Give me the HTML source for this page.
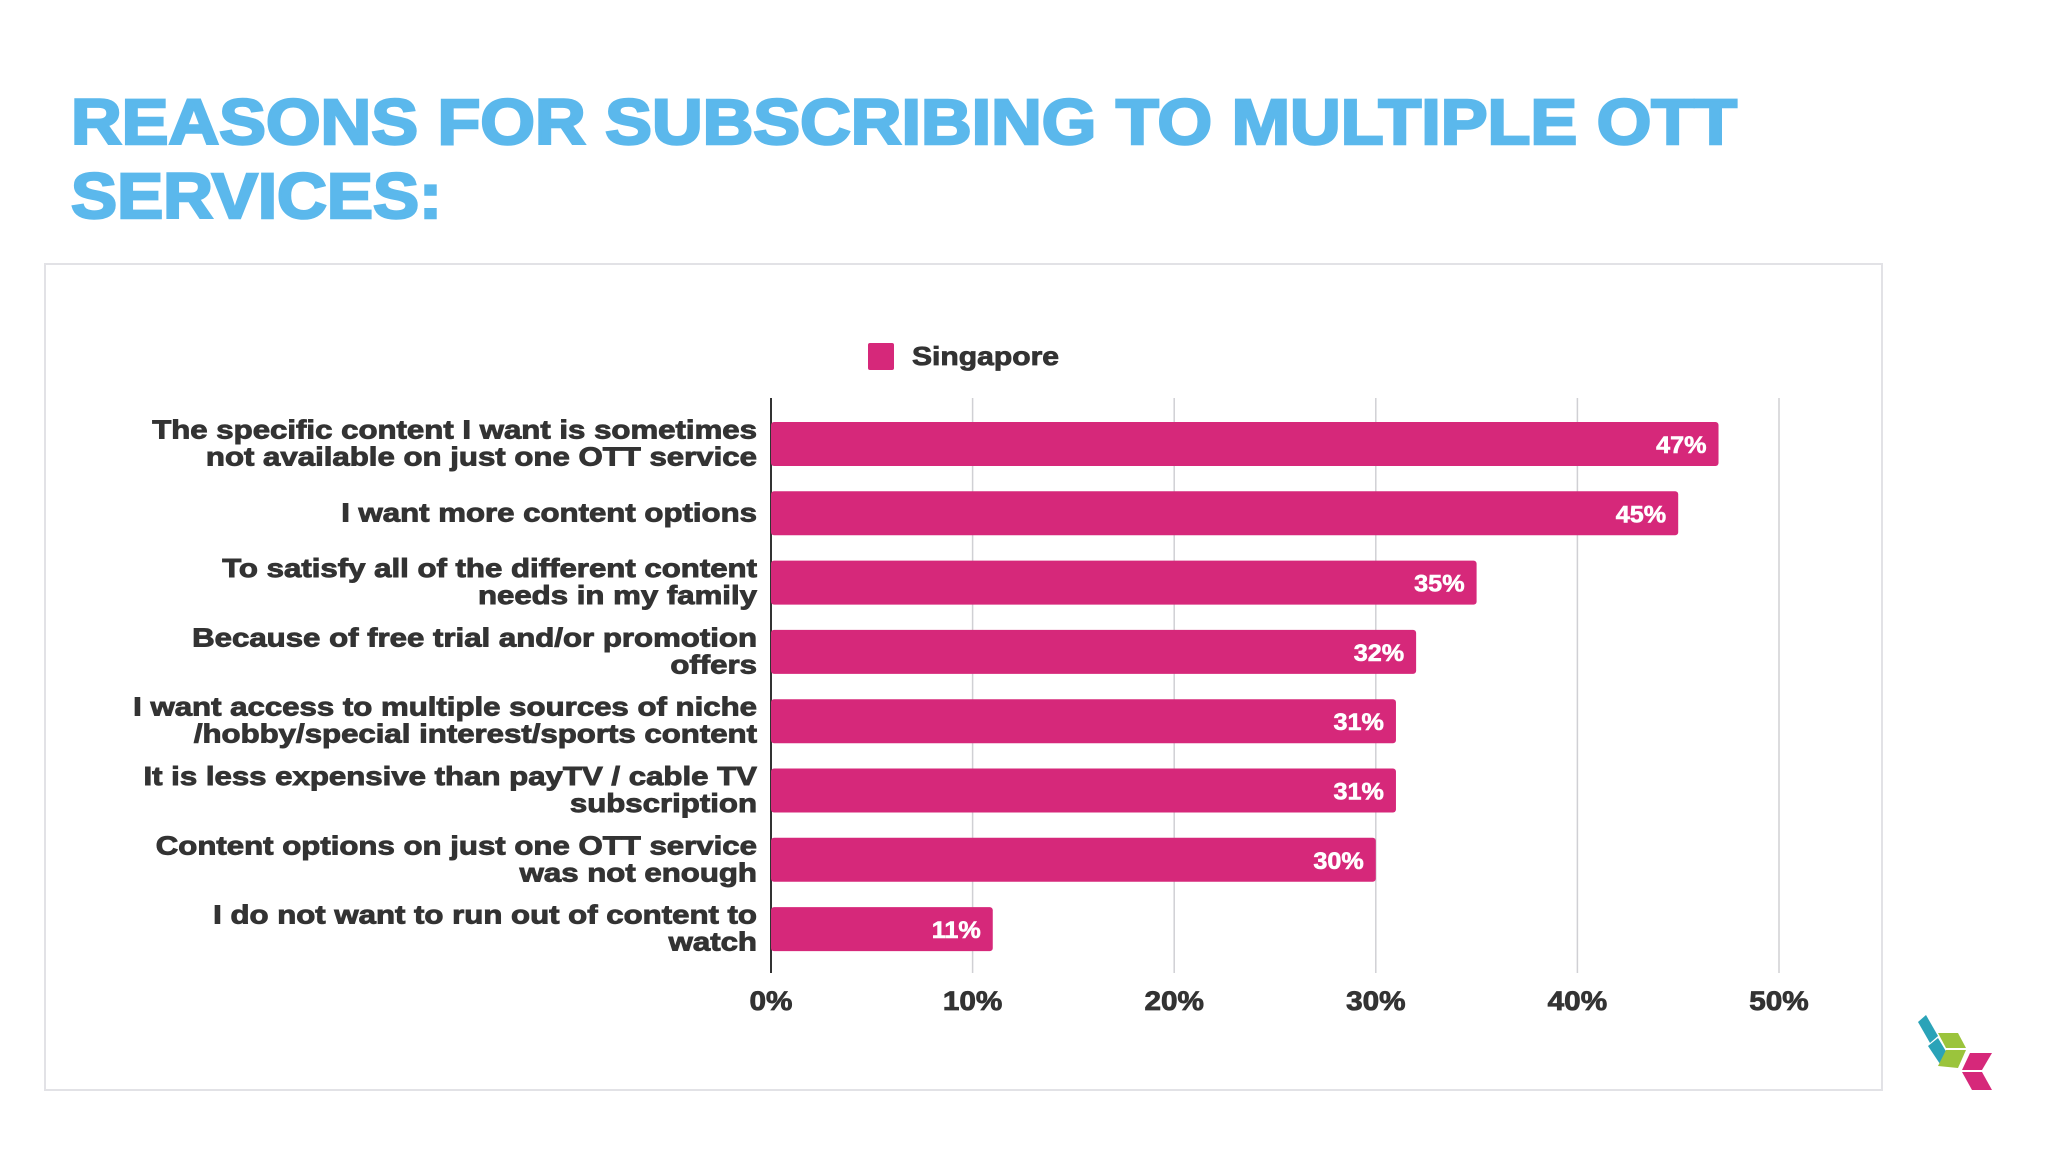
<!DOCTYPE html>
<html><head><meta charset="utf-8"><style>
html,body{margin:0;padding:0;background:#fff;}
svg{display:block;font-family:"Liberation Sans",Arial,sans-serif;}
</style></head><body>
<svg id="chart" width="2048" height="1152" viewBox="0 0 2048 1152" xmlns="http://www.w3.org/2000/svg">
<text x="71" y="144" font-size="64" font-weight="bold" fill="#5bb8ec" stroke="#5bb8ec" stroke-width="2.5" textLength="1666" lengthAdjust="spacingAndGlyphs">REASONS FOR SUBSCRIBING TO MULTIPLE OTT</text>
<text x="71" y="218" font-size="64" font-weight="bold" fill="#5bb8ec" stroke="#5bb8ec" stroke-width="2.5" textLength="371" lengthAdjust="spacingAndGlyphs">SERVICES:</text>
<rect x="45" y="264" width="1837" height="826" fill="#fff" stroke="#e2e2e6" stroke-width="2"/>
<rect x="868" y="343" width="26" height="27" rx="2" fill="#d6287a"/>
<text x="912" y="365" font-size="26" font-weight="bold" fill="#333" stroke="#333" stroke-width="0.8" textLength="147" lengthAdjust="spacingAndGlyphs">Singapore</text>
<g id="grid"></g><g id="bars"></g><g id="labels"></g><g id="ticks"></g>
<g>
<polygon points="1918,1022 1926,1015 1938,1036 1930,1043" fill="#2aa3b8"/>
<polygon points="1928,1046 1938,1038 1950,1058 1940,1064" fill="#2aa3b8"/>
<polygon points="1938,1033 1958,1033 1966,1048 1946,1048" fill="#9bc43c"/>
<polygon points="1946,1050 1966,1050 1958,1068 1938,1066" fill="#9bc43c"/>
<polygon points="1970,1053 1992,1053 1982,1070 1962,1070" fill="#d6287a"/>
<polygon points="1962,1072 1982,1072 1992,1090 1972,1090" fill="#d6287a"/>
</g>
</svg>
<script>
const categories=[
["The specific content I want is sometimes","not available on just one OTT service"],
["I want more content options"],
["To satisfy all of the different content","needs in my family"],
["Because of free trial and/or promotion","offers"],
["I want access to multiple sources of niche","/hobby/special interest/sports content"],
["It is less expensive than payTV / cable TV","subscription"],
["Content options on just one OTT service","was not enough"],
["I do not want to run out of content to","watch"]];
const values=[47,45,35,32,31,31,30,11];
const valueLabels=["47%","45%","35%","32%","31%","31%","30%","11%"];
const tickValues=[0,10,20,30,40,50];
const tickLabels=["0%","10%","20%","30%","40%","50%"];

const NS="http://www.w3.org/2000/svg";
const X0=771,X1=1779,VMAX=50,TOP=398,BOT=973,Y0=444,STEP=69.3,BH=44;
const xs=v=>X0+(X1-X0)*v/VMAX;
const ys=i=>Y0+STEP*i;
function mk(tag,attrs,parent){const e=document.createElementNS(NS,tag);for(const k in attrs)e.setAttribute(k,attrs[k]);parent.appendChild(e);return e;}
function sx(x,k){return 'translate('+x+',0) scale('+k+',1) translate('+(-x)+',0)';}
const grid=document.getElementById('grid'),bars=document.getElementById('bars'),labels=document.getElementById('labels'),ticks=document.getElementById('ticks');
tickValues.forEach((t,i)=>{
  const l=mk('line',{x1:xs(t),x2:xs(t),y1:TOP,y2:BOT,stroke:t===0?'#333':'#d0d0d4','stroke-width':t===0?2:1.5},grid);
  
  
  const tx=mk('text',{x:xs(t),y:1010,'font-size':27,'font-weight':'bold',fill:'#333',stroke:'#333','stroke-width':0.8,'text-anchor':'middle',transform:sx(xs(t),1.1)},ticks);
  tx.textContent=tickLabels[i];
  
  
});
values.forEach((v,i)=>{
  const cy=ys(i);
  const r=mk('rect',{x:X0,y:cy-BH/2,width:xs(v)-X0,height:BH,rx:3,fill:'#d6287a'},bars);
  
  
  const t=mk('text',{x:xs(v)-12,y:cy+9,'font-size':24,'font-weight':'bold',fill:'#fff',stroke:'#fff','stroke-width':0.6,'text-anchor':'end',transform:sx(xs(v)-12,1.05)},bars);
  t.textContent=valueLabels[i];
  
  
  const lines=categories[i];
  lines.forEach((ln,j)=>{
    const y=cy+8+(j-(lines.length-1)/2)*27;
    const c=mk('text',{x:757,y:y,'font-size':26,'font-weight':'bold',fill:'#333',stroke:'#333','stroke-width':0.9,'text-anchor':'end',transform:sx(757,1.2)},labels);
    c.textContent=ln;
    
    
  });
});
</script>
</body></html>
